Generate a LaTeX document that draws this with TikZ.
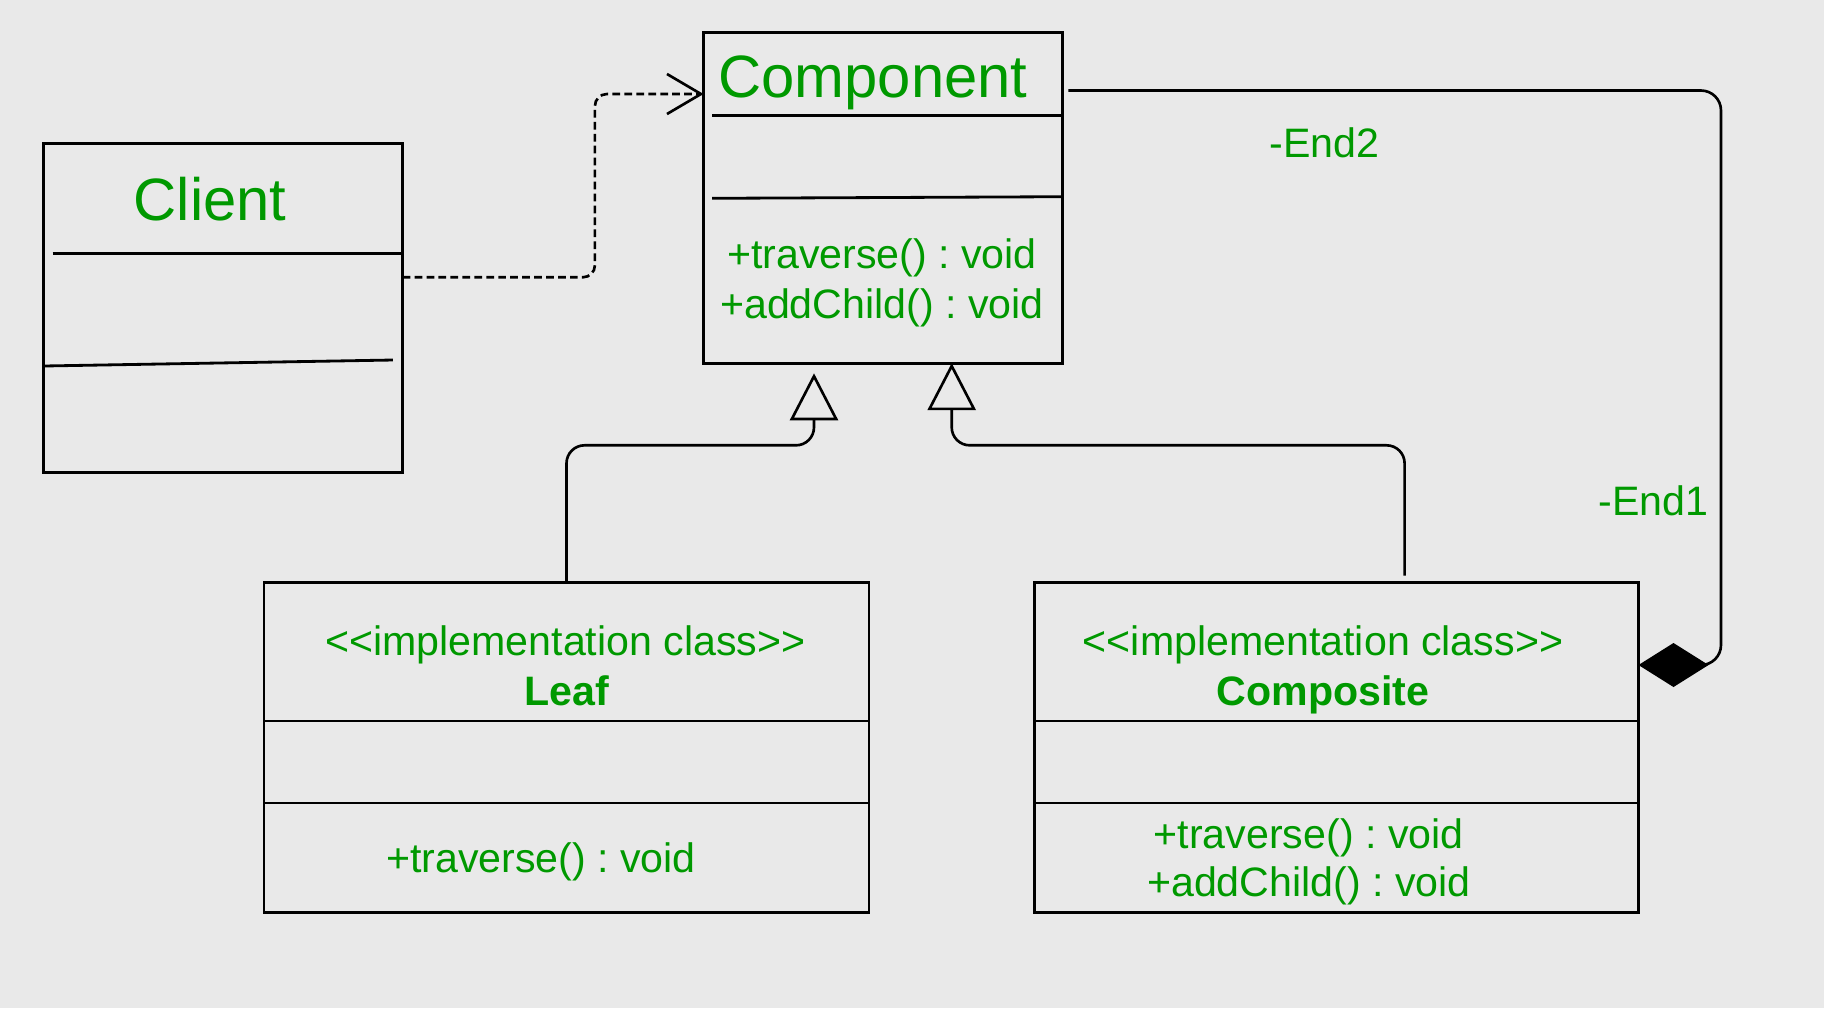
\documentclass[tikz,border=0pt]{standalone}
\usepackage{fontspec}
\setmainfont{Liberation Sans}
\usetikzlibrary{arrows.meta}
\definecolor{bg}{RGB}{233,233,233}
\definecolor{umlgreen}{RGB}{0,153,0}
\frenchspacing
\begin{document}
\begin{tikzpicture}[x=0.01cm,y=-0.01cm,line width=0.75pt,
  classbox/.style={draw=black,rectangle,inner sep=0pt,outer sep=0pt,line width=0.8pt},
  bigtext/.style={text=umlgreen,font=\fontsize{17}{20}\selectfont,anchor=base,inner sep=0pt},
  smalltext/.style={text=umlgreen,font=\fontsize{11.7}{14.2}\selectfont,anchor=base,inner sep=0pt},
  boldtext/.style={text=umlgreen,font=\fontsize{11.7}{14.2}\selectfont\bfseries,anchor=base,inner sep=0pt},
  divider/.style={draw=black,line width=0.8pt},
  depend/.style={dash pattern=on 2.2pt off 1.2pt,rounded corners=0.12cm,-{Straight Barb[length=0.34cm,width=0.4cm]}},
  inherit/.style={rounded corners=0.18cm,-{Triangle[open,length=0.47cm,width=0.48cm]}},
  compose/.style={-{Diamond[length=0.7cm,width=0.44cm]}}]
\fill[bg] (0,0) rectangle (1824,1008);
\useasboundingbox (0,0) rectangle (1824,1008);

% class boxes
\node[classbox,minimum width=3.59cm,minimum height=3.294cm] (client) at (223,308) {};
\node[classbox,minimum width=3.583cm,minimum height=3.303cm] (component) at (882.85,197.85) {};
\node[classbox,minimum width=6.048cm,minimum height=3.30cm] (leaf) at (566.5,747.7) {};
\node[classbox,minimum width=6.039cm,minimum height=3.30cm] (composite) at (1336.35,747.7) {};

% compartment dividers
\draw[divider] (52.6,253.3) -- (402.5,253.3);
\draw[divider] (43.5,366) -- (392.8,360);
\draw[divider] (712,115.5) -- (1062.5,115.5);
\draw[divider] (712,198.3) -- (1062.5,196.7);
\draw[divider] (264.1,721) -- (868.9,721);
\draw[divider] (264.1,803) -- (868.9,803);
\draw[divider] (1034.4,721) -- (1638.3,721);
\draw[divider] (1034.4,803) -- (1638.3,803);

% texts
\node[bigtext] (clientName) at (210,220) {Client};
\node[bigtext] (compName) at (873,97.7) {Component};
\node[smalltext] (compOp1) at (882,268.7) {+traverse() : void};
\node[smalltext] (compOp2) at (882,318.5) {+addChild() : void};
\node[smalltext] (leafStereo) at (565.4,655) {<{}<implementation class>{}>};
\node[boldtext] (leafName) at (566.5,705) {Leaf};
\node[smalltext] (leafOp1) at (541,872.7) {+traverse() : void};
\node[smalltext] (compoStereo) at (1323,655) {<{}<implementation class>{}>};
\node[boldtext] (compoName) at (1323,705) {Composite};
\node[smalltext] (compoOp1) at (1308.6,848.3) {+traverse() : void};
\node[smalltext] (compoOp2) at (1309,896.7) {+addChild() : void};
\node[smalltext] (end2) at (1324.5,157.5) {-End2};
\node[smalltext] (end1) at (1653.6,515.5) {-End1};

% connectors
\coordinate (leafTip) at (814,373.3);
\coordinate (compoTop) at (1404.6,575.6);
\coordinate (compRight) at (1068.3,90.5);

\draw[depend] (client.east |- 0,277.3) -- (594.9,277.3) -- (594.9,94) -- (component.west |- 0,94);
\draw[inherit] (leaf.north) -- (566.5,445.3) -- (814,445.3) -- (leafTip);
\draw[inherit] (compoTop) -- (1404.6,445.3) -- (951.7,445.3) -- (component.south -| 951.7,0);
\draw[compose] (compRight) [rounded corners=0.2cm] -- (1721,90.5) -- (1721,665) [rounded corners=0.08cm] -- (composite.east |- 0,665);
\end{tikzpicture}
\end{document}
